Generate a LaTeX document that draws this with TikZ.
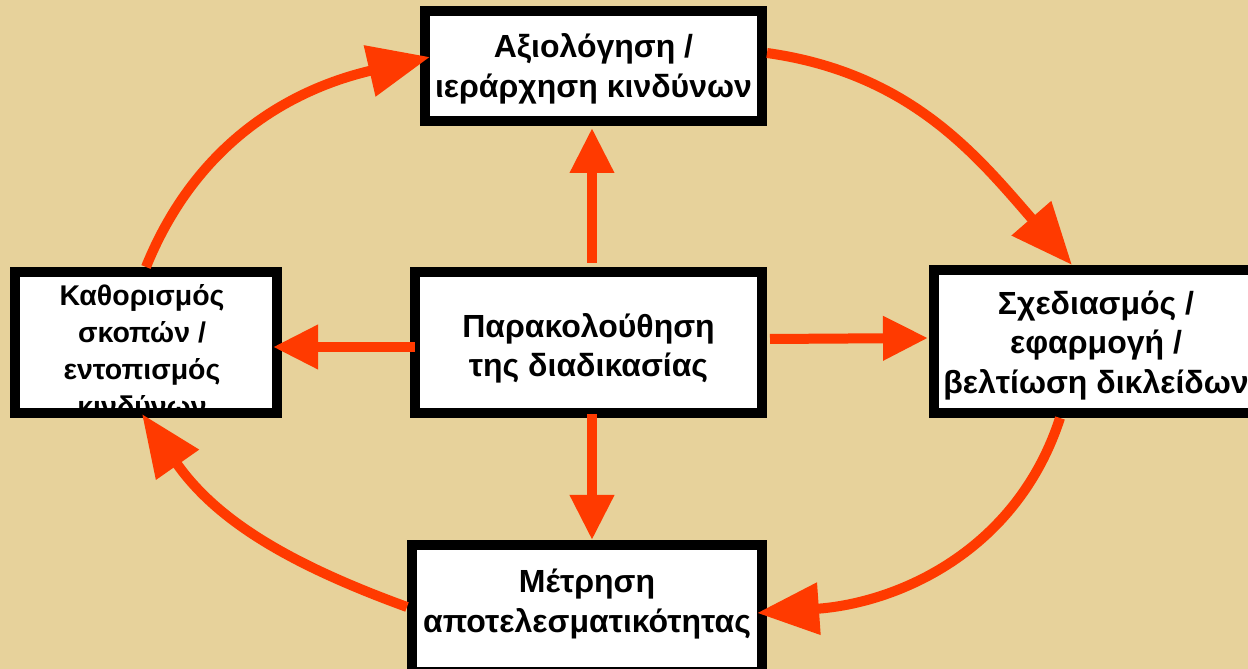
\documentclass[tikz,border=0pt]{standalone}
\usepackage{fontspec}
\setmainfont{Liberation Sans}
\usetikzlibrary{arrows.meta}
\definecolor{paper}{RGB}{231,210,155}
\definecolor{flowred}{RGB}{255,58,0}
\begin{document}
\begin{tikzpicture}[x=1pt, y=1pt,
  box/.style={fill=white, draw=none, outer sep=0pt, inner sep=0pt},
  frame/.style={draw=black, line width=10pt},
  caption/.style={align=center, inner sep=0pt, font=\fontsize{32}{39.5}\selectfont\bfseries},
  flow/.style={draw=flowred, line width=10pt, -{Triangle[length=45pt, width=42pt]}},
  cycle/.style={draw=flowred, line width=10pt, -{Triangle[length=62pt, width=50pt]}}]
\useasboundingbox (0, 0) rectangle (1248, 669);
\clip (0, 0) rectangle (1248, 669);
\fill[paper] (0, 0) rectangle (1248, 669);

\node[box, minimum width=337pt, minimum height=110pt] (assess) at (593.5, 603) {};
\node[box, minimum width=262pt, minimum height=141pt] (goals) at (146, 326.5) {};
\node[box, minimum width=347pt, minimum height=141pt] (centre) at (588.5, 326.5) {};
\node[box, minimum width=324pt, minimum height=143pt] (design) at (1096, 327.5) {};
\node[box, minimum width=350pt, minimum height=127pt] (measure) at (587, 60.5) {};

\node[caption, yshift=-3pt] (assesstext) at (assess) {Αξιολόγηση /\\ιεράρχηση κινδύνων};
\node[caption, font=\fontsize{28.5}{37}\selectfont\bfseries, xshift=-4pt, yshift=-8pt] (goalstext) at (goals) {Καθορισμός\\σκοπών /\\εντοπισμός\\κινδύνων};
\node[caption, yshift=-6pt] (centretext) at (centre) {Παρακολούθηση\\της διαδικασίας};
\node[caption, yshift=-4pt] (designtext) at (design) {Σχεδιασμός /\\εφαρμογή /\\βελτίωση δικλείδων};
\node[caption, yshift=4.5pt] (measuretext) at (measure) {Μέτρηση\\αποτελεσματικότητας};

\foreach \b in {assess, goals, centre, design, measure}
  \draw[frame] (\b.south west) rectangle (\b.north east);

% from the centre outwards
\draw[flow] ([xshift=3.5pt, yshift=9pt]centre.north) -- ([xshift=-1.5pt, yshift=-7pt]assess.south);
\draw[flow] ([yshift=-4.5pt]centre.west) -- ([xshift=-4pt, yshift=-4.5pt]goals.east);
\draw[flow] ([xshift=8pt, yshift=3.5pt]centre.east) -- ([xshift=-6pt, yshift=3.5pt]design.west);
\draw[flow] ([xshift=3.5pt, yshift=-1pt]centre.south) -- ([xshift=5pt, yshift=5pt]measure.north);

% the outer cycle
\draw[cycle] ([yshift=5pt]goals.north) to[out=68, in=193] ([xshift=5pt, yshift=9pt]assess.west);
\draw[cycle] ([xshift=5pt, yshift=13pt]assess.east) to[out=-8, in=131] ([xshift=-24pt, yshift=5pt]design.north);
\draw[cycle] ([xshift=-36pt, yshift=-5pt]design.south) to[out=-108, in=4] ([xshift=-5pt, yshift=-4.5pt]measure.east);
\draw[cycle] ([xshift=-5pt, yshift=1.5pt]measure.west) to[out=160, in=-55] ([xshift=-4pt, yshift=-1pt]goals.south);
\end{tikzpicture}
\end{document}
